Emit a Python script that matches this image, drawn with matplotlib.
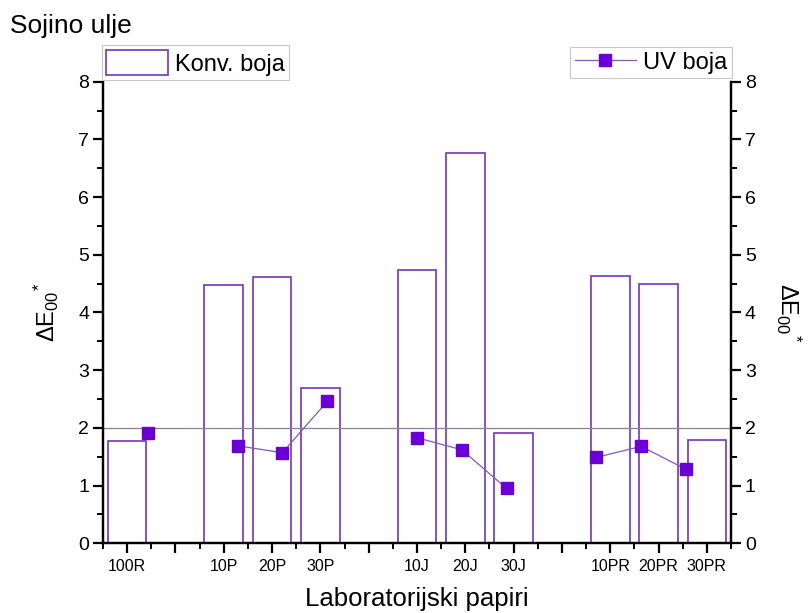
import numpy as np
import matplotlib
matplotlib.use("Agg")
import matplotlib.pyplot as plt
from matplotlib.ticker import MultipleLocator

plt.rcParams['font.family'] = ['Liberation Sans', 'DejaVu Sans']
plt.rcParams['mathtext.fontset'] = 'custom'
plt.rcParams['mathtext.rm'] = 'Liberation Sans'
plt.rcParams['mathtext.it'] = 'Liberation Sans'

# data (blank labels are gaps between groups)
labels = ['100R', '', '10P', '20P', '30P', '', '10J', '20J', '30J', '',
          '10PR', '20PR', '30PR']
konv = [1.77, np.nan, 4.48, 4.61, 2.69, np.nan, 4.74, 6.77, 1.92, np.nan,
        4.64, 4.50, 1.79]
uv = [1.91, np.nan, 1.69, 1.57, 2.46, np.nan, 1.83, 1.62, 0.95, np.nan,
      1.49, 1.68, 1.28]
limit = 2.0

bar_col = '#7535B5'
mark_col = '#6A00D5'
line_col = '#7E5BB5'

x = np.arange(1, len(labels) + 1)
konv = np.array(konv)
uv = np.array(uv)
has = ~np.isnan(konv)

fig = plt.figure(figsize=(8.11, 6.13), dpi=100)
rect = [103 / 811, 1 - 543.3 / 613, 628 / 811, 461.6 / 613]
ax = fig.add_axes(rect)

bars = ax.bar(x[has], konv[has], width=0.8, fill=False, edgecolor=bar_col,
              linewidth=1.2)
ax.axhline(limit, color='#8C7F9C', lw=0.9)

ax.set_xlim(0.5, 13.5)
ax.set_ylim(0, 8)
ax.set_xticks(x)
ax.set_xticklabels(labels, fontsize=11.5)
ax.xaxis.set_minor_locator(MultipleLocator(0.5))
ax.yaxis.set_major_locator(MultipleLocator(1))
ax.yaxis.set_minor_locator(MultipleLocator(0.5))
ax.spines['top'].set_visible(False)
for s in ax.spines.values():
    s.set_linewidth(1.6)
ax.tick_params(axis='both', which='major', length=7, width=1.6, direction='out')
ax.tick_params(axis='both', which='minor', length=4, width=1.4, direction='out')
ax.tick_params(axis='y', labelsize=14, pad=3)
ax.tick_params(axis='x', pad=4)
ax.set_ylabel(r'ΔE$_{00}$$^{*}$', fontsize=17, labelpad=12)
ax.set_xlabel('Laboratorijski papiri', fontsize=18.5, labelpad=10)

axr = ax.twinx()
axr.set_ylim(0, 8)
axr.yaxis.set_major_locator(MultipleLocator(1))
axr.yaxis.set_minor_locator(MultipleLocator(0.5))
axr.spines['top'].set_visible(False)
for s in axr.spines.values():
    s.set_linewidth(1.6)
axr.tick_params(axis='y', which='major', length=7, width=1.6, labelsize=14, pad=3)
axr.tick_params(axis='y', which='minor', length=4, width=1.4)
axr.set_ylabel(r'ΔE$_{00}$$^{*}$', fontsize=17, rotation=270, labelpad=34)

# points layer uses its own x scale
axp = fig.add_axes(rect, frameon=False)
axp.set_xlim(0, 14)
axp.set_ylim(0, 8)
axp.set_xticks([])
axp.set_yticks([])
pts, = axp.plot(x, uv, color=line_col, lw=0.9, marker='s', ms=8.5,
                markerfacecolor=mark_col, markeredgecolor=mark_col)

leg1 = axp.legend([bars], ['Konv. boja'], loc='upper left',
                  bbox_to_anchor=(101.7 / 811, 1 - 45 / 613),
                  bbox_transform=fig.transFigure, fontsize=17, fancybox=False,
                  edgecolor='#C8C8C8', framealpha=1, borderaxespad=0,
                  borderpad=0.2, handlelength=2.6, handleheight=1.3,
                  handletextpad=0.3)
leg1.get_frame().set_linewidth(0.8)
axp.add_artist(leg1)
leg2 = axp.legend([pts], ['UV boja'], loc='upper right',
                  bbox_to_anchor=(732 / 811, 1 - 47 / 613),
                  bbox_transform=fig.transFigure, fontsize=17, fancybox=False,
                  edgecolor='#C8C8C8', framealpha=1, borderaxespad=0,
                  borderpad=0.2, handlelength=2.6, handletextpad=0.3)
leg2.get_frame().set_linewidth(0.8)

fig.text(10 / 811, 1 - 33 / 613, 'Sojino ulje', fontsize=19, va='baseline')

fig.savefig('out.png', dpi=100)
